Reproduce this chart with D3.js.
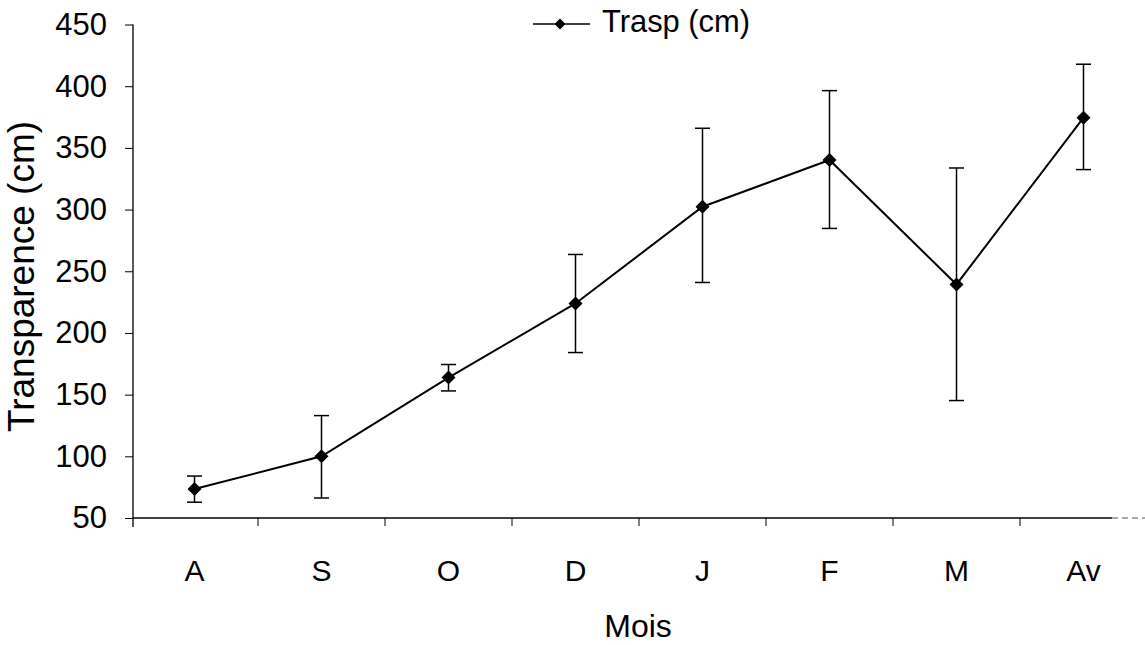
<!DOCTYPE html>
<html>
<head>
<meta charset="utf-8">
<script src="https://cdn.jsdelivr.net/npm/d3@7"></script>
<style>
  html, body { margin: 0; padding: 0; background: #fff; }
  svg { display: block; font-family: "Liberation Sans", Arial, sans-serif; }
</style>
</head>
<body>
<svg id="chart" width="1145" height="645"></svg>
<script>
const months = ["A", "S", "O", "D", "J", "F", "M", "Av"];
const means  = [73.5, 100, 163.8, 223.9, 302.3, 340.2, 239.3, 374.5];
const upper  = [84, 133, 174.4, 263.6, 365.9, 396.4, 333.7, 417.8];
const lower  = [62.8, 66.2, 153, 184.1, 240.9, 284.7, 145.2, 332.4];
const yTicks = [50, 100, 150, 200, 250, 300, 350, 400, 450];
const seriesName = "Trasp (cm)";
const xTitle = "Mois";
const yTitle = "Transparence (cm)";

const data = months.map((m, i) => ({ m, v: means[i], hi: upper[i], lo: lower[i] }));

const svg = d3.select("#chart");
const axisX0 = 133;

const x = d3.scaleBand().domain(months).range([131, 1147]).padding(0);
const y = d3.scaleLinear().domain([50, 450]).range([518, 24.5]);
const cx = d => x(d.m) + x.bandwidth() / 2;

// Y axis
const yAxis = svg.append("g")
  .attr("transform", `translate(${axisX0},0)`)
  .call(d3.axisLeft(y).tickValues(yTicks).tickSize(8).tickPadding(18).tickSizeOuter(0));
yAxis.select(".domain").attr("stroke", "#000").attr("stroke-width", 1.3)
  .attr("d", `M0,${y(450)}V${y(50) + 9}`);
yAxis.selectAll(".tick line").attr("stroke", "#000").attr("stroke-width", 1);
yAxis.selectAll(".tick text").attr("font-size", 31).attr("fill", "#000")
  .attr("font-family", "'Liberation Sans', Arial, sans-serif");

// X axis line
const xAxisY = y(50);
svg.append("line").attr("x1", axisX0).attr("x2", 1112).attr("y1", xAxisY).attr("y2", xAxisY)
  .attr("stroke", "#000").attr("stroke-width", 1.3);
svg.append("line").attr("x1", 1112).attr("x2", 1145).attr("y1", xAxisY).attr("y2", xAxisY)
  .attr("stroke", "#555").attr("stroke-width", 1).attr("stroke-dasharray", "6,4");

// X boundary ticks
svg.append("g").selectAll("line").data(months.slice(1)).join("line")
  .attr("x1", d => x(d)).attr("x2", d => x(d))
  .attr("y1", xAxisY).attr("y2", xAxisY + 8)
  .attr("stroke", "#000").attr("stroke-width", 1);

// X labels
svg.append("g").selectAll("text").data(months).join("text")
  .attr("x", d => x(d) + x.bandwidth() / 2)
  .attr("y", 581)
  .attr("text-anchor", "middle")
  .attr("font-size", 30)
  .attr("fill", "#000")
  .text(d => d);

// Axis titles
svg.append("text").attr("x", 638).attr("y", 637).attr("text-anchor", "middle")
  .attr("font-size", 32).attr("fill", "#000").text(xTitle);
svg.append("text").attr("transform", "translate(34,276.5) rotate(-90)")
  .attr("text-anchor", "middle").attr("font-size", 37).attr("fill", "#000").text(yTitle);

// Error bars
const eb = svg.append("g").attr("stroke", "#000").attr("stroke-width", 1.5);
eb.selectAll("line.v").data(data).join("line").attr("class", "v")
  .attr("x1", cx).attr("x2", cx).attr("y1", d => y(d.hi)).attr("y2", d => y(d.lo));
eb.selectAll("line.t").data(data).join("line").attr("class", "t")
  .attr("x1", d => cx(d) - 7.5).attr("x2", d => cx(d) + 7.5)
  .attr("y1", d => y(d.hi)).attr("y2", d => y(d.hi));
eb.selectAll("line.b").data(data).join("line").attr("class", "b")
  .attr("x1", d => cx(d) - 7.5).attr("x2", d => cx(d) + 7.5)
  .attr("y1", d => y(d.lo)).attr("y2", d => y(d.lo));

// Line
svg.append("path").datum(data)
  .attr("fill", "none").attr("stroke", "#000").attr("stroke-width", 2)
  .attr("d", d3.line().x(cx).y(d => y(d.v)));

// Markers
const diamond = d3.symbol().type(d3.symbolSquare).size(98);
svg.append("g").selectAll("path").data(data).join("path")
  .attr("d", diamond)
  .attr("transform", d => `translate(${cx(d)},${y(d.v)}) rotate(45)`)
  .attr("fill", "#000");

// Legend
const lg = svg.append("g");
lg.append("line").attr("x1", 533).attr("x2", 590).attr("y1", 24).attr("y2", 24)
  .attr("stroke", "#000").attr("stroke-width", 1.5);
lg.append("path").attr("d", d3.symbol().type(d3.symbolSquare).size(60)())
  .attr("transform", "translate(560,24) rotate(45)").attr("fill", "#000");
lg.append("text").attr("x", 602).attr("y", 32).attr("font-size", 32)
  .attr("textLength", 148).attr("lengthAdjust", "spacingAndGlyphs")
  .attr("fill", "#000").text(seriesName);
</script>
</body>
</html>
